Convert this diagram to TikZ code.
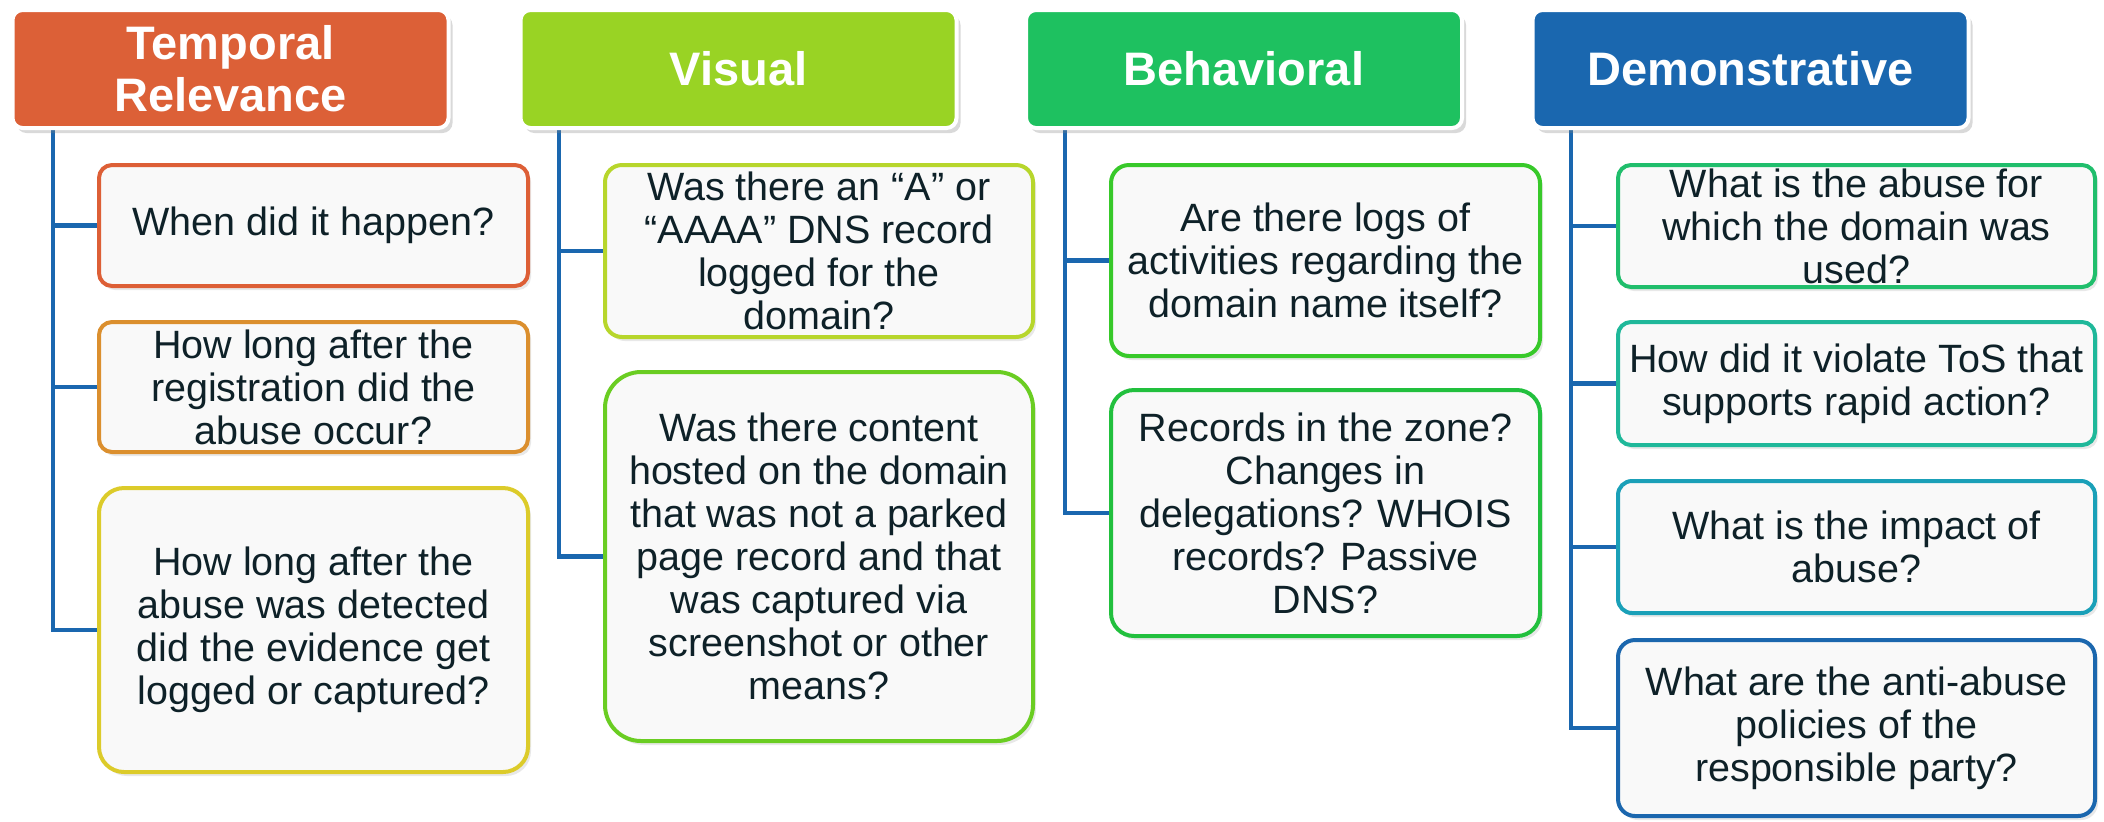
\documentclass[tikz,border=0pt]{standalone}
\usepackage{fontspec}
\setmainfont{Liberation Sans}
\usetikzlibrary{shadows}
\definecolor{hTemp}{HTML}{DC6037}
\definecolor{hVis}{HTML}{99D324}
\definecolor{hBeh}{HTML}{1EC160}
\definecolor{hDem}{HTML}{1A67AF}
\definecolor{conn}{HTML}{1A67AF}
\definecolor{boxfill}{HTML}{F9F9F9}
\definecolor{txt}{HTML}{0E2128}
\definecolor{cTa}{HTML}{DD5F36}
\definecolor{cTb}{HTML}{DB8F2E}
\definecolor{cTc}{HTML}{DCCB2A}
\definecolor{cVa}{HTML}{B7D62C}
\definecolor{cVb}{HTML}{6ACD22}
\definecolor{cBa}{HTML}{38C92A}
\definecolor{cBb}{HTML}{22C03E}
\definecolor{cDa}{HTML}{20BE6C}
\definecolor{cDb}{HTML}{1FB89A}
\definecolor{cDc}{HTML}{1AA0B8}
\definecolor{cDd}{HTML}{1B67AE}
\pgfdeclarelayer{bg}
\pgfsetlayers{bg,main}
\begin{document}
\begin{tikzpicture}[x=0.5pt,y=-0.5pt,
  hdr/.style={draw=white, line width=2pt, rounded corners=5pt, text=white,
    font=\fontsize{23.5}{26}\selectfont\bfseries, align=center, inner sep=0pt,
    minimum width=218pt, minimum height=59pt,
    drop shadow={opacity=0.3, shadow xshift=2pt, shadow yshift=-2.5pt}},
  qbox/.style={fill=boxfill, line width=2pt, text=txt,
    font=\fontsize{19.75}{21.5}\selectfont, align=center, inner sep=0pt,
    drop shadow={opacity=0.18, shadow xshift=1.5pt, shadow yshift=-2pt}},
  link/.style={draw=conn, line width=2.25pt}]
\useasboundingbox (0,0) rectangle (2104,821);

% headers
\node[hdr, fill=hTemp] (th) at (230.5,69) {Temporal\\Relevance};
\node[hdr, fill=hVis] (vh) at (738.5,69) {Visual};
\node[hdr, fill=hBeh] (bh) at (1244,69) {Behavioral};
\node[hdr, fill=hDem] (dh) at (1750.5,69) {Demonstrative};

% Temporal
\node[qbox, draw=cTa, rounded corners=6.5pt, minimum width=214.5pt, minimum height=60.5pt] (t1) at (313.5,225.5) {When did it happen?};
\node[qbox, draw=cTb, rounded corners=6.5pt, minimum width=214.5pt, minimum height=65pt] (t2) at (313.5,387) {How long after the\\registration did the\\abuse occur?};
\node[qbox, draw=cTc, rounded corners=12.5pt, minimum width=214.5pt, minimum height=142pt] (t3) at (313.5,630) {How long after the\\abuse was detected\\did the evidence get\\logged or captured?};

% Visual
\node[qbox, draw=cVa, rounded corners=8.5pt, minimum width=214pt, minimum height=86pt] (v1) at (819,251) {Was there an “A” or\\“AAAA” DNS record\\logged for the\\domain?};
\node[qbox, draw=cVb, rounded corners=18pt, minimum width=214pt, minimum height=184.5pt] (v2) at (819,556.5) {Was there content\\hosted on the domain\\that was not a parked\\page record and that\\was captured via\\screenshot or other\\means?};

% Behavioral
\node[qbox, draw=cBa, rounded corners=9pt, minimum width=214.5pt, minimum height=95.5pt] (b1) at (1325.5,260.5) {Are there logs of\\activities regarding the\\domain name itself?};
\node[qbox, draw=cBb, rounded corners=11.5pt, minimum width=214.5pt, minimum height=123pt] (b2) at (1325.5,513) {Records in the zone?\\Changes in\\delegations? WHOIS\\records? Passive\\DNS?};

% Demonstrative
\node[qbox, draw=cDa, rounded corners=6.5pt, minimum width=238.5pt, minimum height=61pt] (d1) at (1856.5,226) {What is the abuse for\\which the domain was\\used?};
\node[qbox, draw=cDb, rounded corners=6.5pt, minimum width=238.5pt, minimum height=61.5pt] (d2) at (1856.5,383.5) {How did it violate ToS that\\supports rapid action?};
\node[qbox, draw=cDc, rounded corners=7pt, minimum width=238.5pt, minimum height=66pt] (d3) at (1856.5,547) {What is the impact of\\abuse?};
\node[qbox, draw=cDd, rounded corners=8.5pt, minimum width=238.5pt, minimum height=88pt] (d4) at (1856.5,728) {What are the anti-abuse\\policies of the\\responsible party?};

% connector origins
\coordinate (tv) at (53,130);
\coordinate (vv) at (559,130);
\coordinate (bv) at (1065,130);
\coordinate (dv) at (1571,130);

\begin{pgfonlayer}{bg}
\draw[link] (tv) |- (t1.west);
\draw[link] (tv) |- (t2.west);
\draw[link] (tv) |- (t3.west);
\draw[link] (vv) |- (v1.west);
\draw[link] (vv) |- (v2.west);
\draw[link] (bv) |- (b1.west);
\draw[link] (bv) |- (b2.west);
\draw[link] (dv) |- (d1.west);
\draw[link] (dv) |- (d2.west);
\draw[link] (dv) |- (d3.west);
\draw[link] (dv) |- (d4.west);
\end{pgfonlayer}
\end{tikzpicture}
\end{document}
